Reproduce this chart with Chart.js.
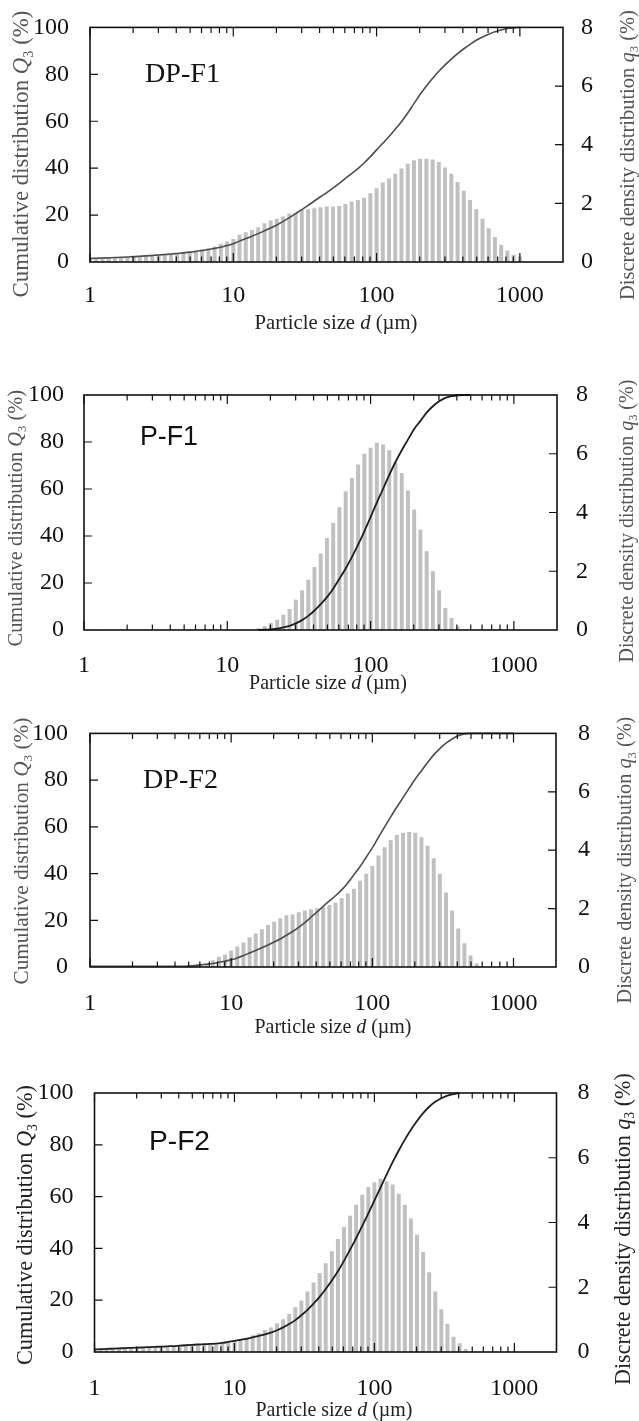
<!DOCTYPE html>
<html>
<head>
<meta charset="utf-8">
<script src="https://cdn.jsdelivr.net/npm/chart.js@4.4.1/dist/chart.umd.min.js"></script>
<style>
    html, body { margin: 0; padding: 0; background: #fff; }
    body { width: 639px; height: 1421px; position: relative; overflow: hidden; }
    canvas { position: absolute; left: 0; }
</style>
</head>
<body>
<canvas id="c1"></canvas>
<canvas id="c2"></canvas>
<canvas id="c3"></canvas>
<canvas id="c4"></canvas>
<script>
/* ============================================================
   Particle size distributions — q3 bars (right) + Q3 line (left)
   ============================================================ */

// size classes (µm), shared by all four samples
var SIZES = [
    1, 1.105, 1.222, 1.350, 1.492, 1.650, 1.823, 2.015, 2.228, 2.462, 2.721, 3.008,
    3.325, 3.675, 4.062, 4.489, 4.962, 5.485, 6.062, 6.701, 7.406, 8.186, 9.048,
    10, 11.05, 12.22, 13.50, 14.92, 16.50, 18.23, 20.15, 22.28, 24.62, 27.21, 30.08,
    33.25, 36.75, 40.62, 44.89, 49.62, 54.85, 60.62, 67.01, 74.06, 81.86, 90.48,
    100, 110.5, 122.2, 135.0, 149.2, 165.0, 182.3, 201.5, 222.8, 246.2, 272.1, 300.8,
    332.5, 367.5, 406.2, 448.9, 496.2, 548.5, 606.2, 670.1, 740.6, 818.6, 904.8, 1000
];

var X_TICKS = [1, 10, 100, 1000];
var Q_TICKS = [0, 20, 40, 60, 80, 100];
var QD_TICKS = [0, 2, 4, 6, 8];

// DP-F1
var Q3_DPF1 = [
    1.5, 1.6, 1.7, 1.8, 1.9, 2.0, 2.1, 2.3, 2.45, 2.6, 2.8, 3.0, 3.2, 3.4, 3.65, 3.9, 4.2, 4.5, 4.9, 5.3, 5.8, 6.3, 7.0,
    7.8, 8.9, 10.0, 11.0, 12.1, 13.3, 14.5, 15.8, 17.3, 18.9, 20.6, 22.3, 24.1, 26.0, 27.8, 29.6, 31.5, 33.5, 35.6, 37.7, 39.8, 42.2, 44.9, 47.8,
    50.6, 53.5, 56.6, 59.8, 63.5, 67.5, 71.5, 75.0, 78.3, 81.3, 84.0, 86.5, 88.8, 90.9, 92.8, 94.5, 95.9, 97.1, 98.1, 98.9, 99.5, 99.8, 100
];
var q3_DPF1 = [
    0.12, 0.12, 0.13, 0.13, 0.14, 0.14, 0.15, 0.16, 0.17, 0.18, 0.20, 0.22, 0.24, 0.26,
    0.29, 0.31, 0.35, 0.38, 0.43, 0.46, 0.52, 0.61, 0.69,
    0.77, 0.92, 1.00, 1.08, 1.17, 1.31, 1.40, 1.46,
    1.54, 1.63, 1.65, 1.77, 1.79, 1.82, 1.86, 1.88, 1.88, 1.90,
    1.97, 2.05, 2.10, 2.18, 2.33, 2.50,
    2.70, 2.84, 3.00, 3.18, 3.34, 3.46, 3.51, 3.51, 3.48, 3.40, 3.21,
    3.00, 2.72, 2.42, 2.10, 1.79, 1.46, 1.14, 0.84, 0.58, 0.38, 0.24, 0.18
];

// P-F1
var Q3_PF1 = [
    null, null, null, null, null, null, null, null, null, null, null, null, null, null,
    null, null, null, null, null, null, null, null, null, null, null, null, null, null,
    0, 0.1, 0.3, 0.6, 1.1, 1.8, 2.8, 4.2, 6.0, 8.3, 11.0, 14.0, 17.6, 21.8, 26.2, 31.0, 36.3,
    42.0, 48.0, 54.2, 60.0, 66.0, 71.5, 76.5, 81.0, 85.5, 89.0, 92.5, 95.2, 97.3, 98.8, 99.5, 99.9, 100, 100,
    null, null, null, null, null, null, null
];
var q3_PF1 = [
    0, 0, 0, 0, 0, 0, 0, 0, 0, 0, 0, 0, 0, 0, 0, 0, 0, 0, 0, 0, 0, 0, 0, 0, 0, 0, 0, 0,
    0.05, 0.12, 0.23, 0.34, 0.51, 0.70, 1.02, 1.34, 1.70, 2.13, 2.59, 3.12, 3.63, 4.17, 4.71,
    5.16, 5.62, 5.99, 6.19, 6.36, 6.30, 6.11, 5.68, 5.33, 4.74, 4.09, 3.41, 2.67, 1.99, 1.34,
    0.74, 0.40, 0.11,
    0, 0, 0, 0, 0, 0, 0, 0, 0
];

// DP-F2
var Q3_DPF2 = [
    0.3, 0.3, 0.3, 0.3, 0.3, 0.3, 0.3, 0.3, 0.3, 0.3, 0.3, 0.3, 0.3, 0.3, 0.3, 0.3,
    0.4, 0.6, 0.9, 1.2, 1.5, 2.0, 2.5, 3.1, 3.9, 4.9, 6.0, 7.1, 8.2, 9.4, 10.7, 12.0, 13.6, 15.2,
    17.0, 19.0, 21.3, 23.6, 26.0, 28.3, 30.5, 33.0, 36.0, 39.5, 43.0, 47.0, 51.0, 55.5, 60.0,
    64.3, 68.5, 72.5, 76.5, 80.5, 84.0, 87.5, 90.8, 93.5, 95.8, 97.6, 99.0, 99.8,
    100, 100, 100, 100, 100, 100, 100, 100
];
var q3_DPF2 = [
    0, 0, 0, 0, 0, 0, 0, 0, 0, 0, 0, 0, 0, 0, 0, 0, 0,
    0.03, 0.06, 0.12, 0.22,
    0.34, 0.42, 0.55, 0.69, 0.83, 1.01, 1.14, 1.28, 1.43, 1.54, 1.66, 1.76, 1.79, 1.86, 1.92,
    1.97, 2.00, 2.06, 2.11, 2.19, 2.34, 2.51, 2.67, 2.94, 3.18, 3.45, 3.81, 4.09, 4.34, 4.51,
    4.59, 4.61, 4.59, 4.43, 4.14, 3.71, 3.18, 2.54, 1.92, 1.31, 0.80, 0.38, 0.11,
    0, 0, 0, 0, 0, 0
];

// P-F2
var Q3_PF2 = [
    1.0, 1.1, 1.2, 1.3, 1.4, 1.5, 1.6, 1.7, 1.8, 1.9, 2.0, 2.1, 2.2, 2.3, 2.45, 2.6, 2.75, 2.9, 3.0, 3.1, 3.2,
    3.5, 3.9, 4.3, 4.7, 5.1, 5.6, 6.2, 6.8, 7.5, 8.4, 9.5, 10.8, 12.3, 14.2, 16.3, 18.7, 21.3, 24.3,
    27.6, 31.2, 35.2, 39.5, 44.0, 48.7, 53.5, 58.5, 63.5, 68.5, 73.3, 77.8, 82.0, 85.8, 89.2, 92.2,
    94.7, 96.6, 98.0, 99.0, 99.6, 100,
    null, null, null, null, null, null, null, null, null
];
var q3_PF2 = [
    0.08, 0.08, 0.09, 0.09, 0.10, 0.10, 0.10, 0.11, 0.11, 0.12, 0.12, 0.13, 0.14, 0.15, 0.16,
    0.17, 0.18, 0.19, 0.20, 0.21, 0.22,
    0.24, 0.28, 0.34, 0.38, 0.44, 0.51, 0.57, 0.67, 0.75, 0.88, 1.00, 1.17, 1.37, 1.58, 1.86,
    2.14, 2.43, 2.73, 3.10, 3.48, 3.85, 4.20, 4.54, 4.85, 5.09, 5.23, 5.34, 5.26, 5.16, 4.88,
    4.54, 4.11, 3.61, 3.08, 2.45, 1.86, 1.31, 0.86, 0.46, 0.26, 0.08,
    0, 0, 0, 0, 0, 0, 0, 0
];

var SERIF = '"Liberation Serif", "Times New Roman", serif';
var SANS = '"Liberation Sans", Arial, sans-serif';

var LEFT_TITLE = [['Cumulative distribution ', 'n'], ['Q', 'i'], ['3', 'sub'], [' (%)', 'n']];
var RIGHT_TITLE = [['Discrete density distribution ', 'n'], ['q', 'i'], ['3', 'sub'], [' (%)', 'n']];
var X_TITLE = [['Particle size ', 'n'], ['d', 'i'], [' (\u00b5m)', 'n']];

// page geometry of each panel (pixels)
var PANELS = [
    { id: 'c1', name: 'DP-F1', nameFont: SERIF, nameX: 145, nameY: 82, nameW: 75,
      cum: Q3_DPF1, dens: q3_DPF1, top: 0, height: 345, L: 90, R: 563, T: 26, B: 262,
      padX: 11, padL: 13, padR: 10, line: '#4d4d4d', lineW: 1.6, titleColor: '#555',
      lt: [21, 154, 287], rt: [627, 155, 290], xt: [336, 322, 163] },
    { id: 'c2', name: 'P-F1', nameFont: SANS, nameX: 140, nameY: 445, nameW: 58,
      cum: Q3_PF1, dens: q3_PF1, top: 360, height: 345, L: 84, R: 557, T: 395, B: 630,
      padX: 13, padL: 12, padR: 11, line: '#1e1e1e', lineW: 1.8, titleColor: '#555',
      lt: [15, 518, 257], rt: [627, 521, 283], xt: [328, 683, 158] },
    { id: 'c3', name: 'DP-F2', nameFont: SERIF, nameX: 143, nameY: 788, nameW: 75,
      cum: Q3_DPF2, dens: q3_DPF2, top: 705, height: 340, L: 90, R: 556, T: 733, B: 967,
      padX: 14, padL: 14, padR: 14, line: '#4d4d4d', lineW: 1.6, titleColor: '#555',
      lt: [21, 851, 267], rt: [625, 860, 287], xt: [333, 1027, 157] },
    { id: 'c4', name: 'P-F2', nameFont: SANS, nameX: 149, nameY: 1150, nameW: 61,
      cum: Q3_PF2, dens: q3_PF2, top: 1045, height: 376, L: 94.5, R: 556.5, T: 1093, B: 1352,
      padX: 14, padL: 13, padR: 13, line: '#1e1e1e', lineW: 1.8, titleColor: '#222',
      lt: [25, 1225, 280], rt: [623, 1229, 312], xt: [334, 1410, 157] }
];

// ------------------------------------------------------------------
// rich text (italic / subscript pieces), stretched to a target length
// ------------------------------------------------------------------
function segFont(seg, size) {
    var sz = seg[1] === 'sub' ? size * 0.62 : size;
    return (seg[1] === 'i' ? 'italic ' : '') + sz.toFixed(2) + 'px ' + SERIF;
}

function drawRich(ctx, segs, cx, cy, vertical, length, color) {
    var w = 0;
    segs.forEach(function (s) { ctx.font = segFont(s, 20); w += ctx.measureText(s[0]).width; });
    var size = 20 * length / w;
    ctx.save();
    ctx.translate(cx, cy);
    if (vertical) ctx.rotate(-Math.PI / 2);
    ctx.fillStyle = color;
    ctx.textAlign = 'left';
    ctx.textBaseline = 'alphabetic';
    var x = -length / 2, base = size * 0.32;
    segs.forEach(function (s) {
        ctx.font = segFont(s, size);
        ctx.fillText(s[0], x, s[1] === 'sub' ? base + size * 0.2 : base);
        x += ctx.measureText(s[0]).width;
    });
    ctx.restore();
}

// ------------------------------------------------------------------
// frame, inward ticks, panel name and axis titles
// ------------------------------------------------------------------
var decorPlugin = {
    id: 'decor',
    afterDraw: function (chart, args, p) {
        var ctx = chart.ctx, a = chart.chartArea;
        var sx = chart.scales.x, sy = chart.scales.y, sy1 = chart.scales.y1;
        var off = p.top;

        ctx.save();
        ctx.strokeStyle = '#111';
        ctx.lineWidth = 1.2;
        ctx.beginPath();
        for (var e = 0; e <= 3; e++) {
            for (var m = 1; m <= 9; m++) {
                var v = m * Math.pow(10, e);
                if (v > 1000) break;
                var px = sx.getPixelForValue(v);
                var len = m === 1 ? 9 : 5.5;
                ctx.moveTo(px, a.bottom); ctx.lineTo(px, a.bottom - len);
                ctx.moveTo(px, a.top); ctx.lineTo(px, a.top + len);
            }
        }
        Q_TICKS.slice(1, -1).forEach(function (v) {
            var py = sy.getPixelForValue(v);
            ctx.moveTo(a.left, py); ctx.lineTo(a.left + 8, py);
        });
        QD_TICKS.slice(1, -1).forEach(function (v) {
            var py = sy1.getPixelForValue(v);
            ctx.moveTo(a.right, py); ctx.lineTo(a.right - 8, py);
        });
        ctx.stroke();
        ctx.lineWidth = 1.6;
        ctx.strokeRect(a.left, a.top, a.right - a.left, a.bottom - a.top);

        // sample name
        ctx.fillStyle = '#111';
        ctx.textBaseline = 'alphabetic';
        ctx.textAlign = 'left';
        ctx.font = '20px ' + p.nameFont;
        var nsize = 20 * p.nameW / ctx.measureText(p.name).width;
        ctx.font = nsize.toFixed(2) + 'px ' + p.nameFont;
        ctx.fillText(p.name, p.nameX, p.nameY - off);
        ctx.restore();

        drawRich(ctx, LEFT_TITLE, p.lt[0], p.lt[1] - off, true, p.lt[2], p.titleColor);
        drawRich(ctx, RIGHT_TITLE, p.rt[0], p.rt[1] - off, true, p.rt[2], p.titleColor);
        drawRich(ctx, X_TITLE, p.xt[0], p.xt[1] - off, false, p.xt[2], '#222');
    }
};

function makeChart(p) {
    var canvas = document.getElementById(p.id);
    canvas.width = 639;
    canvas.height = p.height;
    canvas.style.top = p.top + 'px';
    canvas.style.width = '639px';
    canvas.style.height = p.height + 'px';

    var tickFont = { family: SERIF, size: 24 };

    return new Chart(canvas, {
        type: 'bar',
        data: {
            datasets: [{
                type: 'line',
                data: SIZES.map(function (d, i) { return { x: d, y: p.cum[i] }; }),
                yAxisID: 'y',
                borderColor: p.line,
                borderWidth: p.lineW,
                pointRadius: 0,
                fill: false,
                cubicInterpolationMode: 'monotone',
                clip: false,
                order: 0
            }, {
                type: 'bar',
                data: SIZES.map(function (d, i) { return { x: d, y: p.dens[i] }; }),
                yAxisID: 'y1',
                backgroundColor: '#c0c0c0',
                borderWidth: 0,
                barThickness: 3.3,
                grouped: false,
                order: 1
            }]
        },
        options: {
            responsive: false,
            animation: false,
            events: [],
            layout: { padding: { top: p.T - p.top, left: 0, right: 0, bottom: 0 } },
            plugins: {
                legend: { display: false },
                tooltip: { enabled: false },
                decor: p
            },
            scales: {
                x: {
                    type: 'logarithmic',
                    min: 1,
                    max: 2000,
                    offset: false,
                    grid: { display: false, offset: false },
                    border: { display: false },
                    afterBuildTicks: function (s) { s.ticks = X_TICKS.map(function (v) { return { value: v }; }); },
                    afterFit: function (s) { s.height = p.height - (p.B - p.top); },
                    ticks: {
                        autoSkip: false,
                        maxRotation: 0,
                        padding: p.padX,
                        color: '#111',
                        font: tickFont,
                        callback: function (v) { return String(v); }
                    }
                },
                y: {
                    position: 'left',
                    min: 0,
                    max: 100,
                    grid: { display: false },
                    border: { display: false },
                    afterBuildTicks: function (s) { s.ticks = Q_TICKS.map(function (v) { return { value: v }; }); },
                    afterFit: function (s) { s.width = p.L; },
                    ticks: { padding: p.padL, color: '#111', font: tickFont }
                },
                y1: {
                    position: 'right',
                    min: 0,
                    max: 8,
                    grid: { display: false },
                    border: { display: false },
                    afterBuildTicks: function (s) { s.ticks = QD_TICKS.map(function (v) { return { value: v }; }); },
                    afterFit: function (s) { s.width = 639 - p.R; },
                    ticks: { padding: p.padR, color: '#111', font: tickFont }
                }
            }
        },
        plugins: [decorPlugin]
    });
}

PANELS.forEach(makeChart);
</script>
</body>
</html>
